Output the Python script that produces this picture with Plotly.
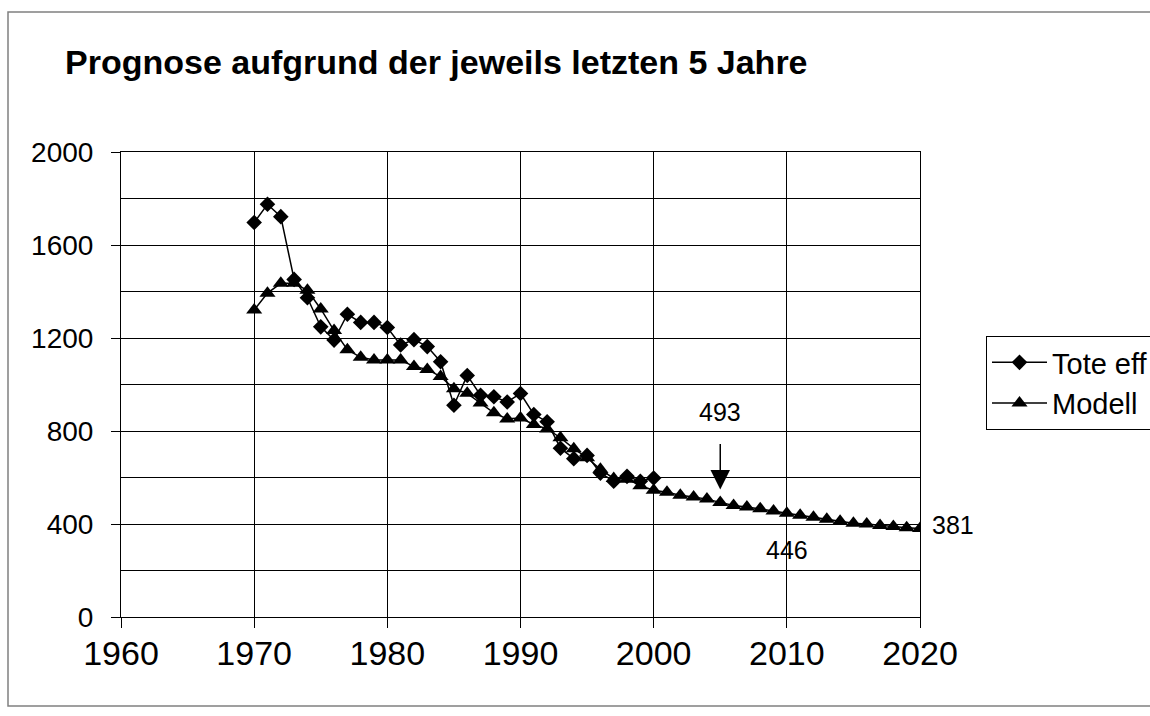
import plotly.graph_objects as go

# ---- data ----
years_eff = list(range(1970, 2001))
tote_eff = [1697, 1775, 1722, 1452, 1373, 1248, 1191, 1302, 1267, 1267,
            1245, 1170, 1193, 1163, 1098, 911, 1039, 954, 947, 925,
            961, 871, 840, 726, 681, 695, 619, 584, 605, 584, 598]

years_mod = list(range(1970, 2021))
modell = [1320, 1393, 1435, 1435, 1405, 1325, 1232, 1150, 1117, 1105,
          1105, 1105, 1077, 1065, 1034, 982, 962, 920, 878, 852,
          856, 828, 809, 771, 724, 685, 635, 596, 593, 565,
          545, 537, 524, 516, 507, 493, 480, 473, 466, 456,
          446, 438, 429, 420, 412, 403, 400, 394, 389, 384, 381]

x_ticks = [1960, 1970, 1980, 1990, 2000, 2010, 2020]
y_ticks = [0, 400, 800, 1200, 1600, 2000]
title_text = "Prognose aufgrund der jeweils letzten 5 Jahre"
marked_years = [2005, 2010, 2020]

FONT = "Liberation Sans, Arial, sans-serif"
W, H = 1150, 716
ML, MR, MT, MB = 121, 230, 152, 99
PW, PH = W - ML - MR, H - MT - MB

def px_to_paper_x(px):
    return (px - ML) / PW

def px_to_paper_y(py):
    return (H - MB - py) / PH

fig = go.Figure()
fig.add_trace(go.Scatter(
    x=years_eff, y=tote_eff, name="Tote eff", mode="lines+markers",
    line=dict(color="black", width=1.5),
    marker=dict(symbol="diamond", size=12, color="black"),
))
fig.add_trace(go.Scatter(
    x=years_mod, y=modell, name="Modell", mode="lines+markers",
    line=dict(color="black", width=1.5),
    marker=dict(symbol="triangle-up", size=14, color="black"),
))

val = dict(zip(years_mod, modell))

# arrow for 2005
fig.add_annotation(x=marked_years[0], y=val[marked_years[0]], xref="x", yref="y",
                   text="", showarrow=True, arrowhead=2, arrowsize=2.6,
                   arrowwidth=1.5, arrowcolor="black", ax=0, ay=-60, standoff=13)
fig.add_annotation(x=marked_years[0], y=val[marked_years[0]], xref="x", yref="y",
                   text=str(val[marked_years[0]]), showarrow=False, yshift=90,
                   font=dict(family=FONT, size=25, color="black"))
fig.add_annotation(x=marked_years[1], y=val[marked_years[1]], xref="x", yref="y",
                   text=str(val[marked_years[1]]), showarrow=False, yshift=-37,
                   font=dict(family=FONT, size=25, color="black"))
fig.add_annotation(x=marked_years[2], y=val[marked_years[2]], xref="x", yref="y",
                   text=str(val[marked_years[2]]), showarrow=False, xanchor="left",
                   xshift=10, yshift=3,
                   font=dict(family=FONT, size=25, color="black"))

# outer chart border
fig.add_shape(type="rect", xref="paper", yref="paper",
              x0=px_to_paper_x(8), x1=px_to_paper_x(1170),
              y0=px_to_paper_y(706), y1=px_to_paper_y(12),
              line=dict(color="#808080", width=1.5), fillcolor="rgba(0,0,0,0)",
              layer="below")

fig.update_layout(
    width=W, height=H,
    margin=dict(l=ML, r=MR, t=MT, b=MB, autoexpand=False),
    paper_bgcolor="white", plot_bgcolor="white",
    font=dict(family=FONT, color="black"),
    title=dict(text="<b>" + title_text + "</b>", x=65 / W, xref="container",
               xanchor="left", y=1 - 62 / H, yref="container", yanchor="middle",
               font=dict(family=FONT, size=34, color="black")),
    showlegend=True,
    legend=dict(x=px_to_paper_x(986), y=px_to_paper_y(336), xanchor="left", yanchor="top",
                bordercolor="black", borderwidth=1, bgcolor="white", itemwidth=55,
                font=dict(family=FONT, size=29, color="black")),
    xaxis=dict(range=[1960, 2020], tickvals=x_ticks, showgrid=True,
               gridcolor="black", gridwidth=1, showline=True, linecolor="black",
               linewidth=1, mirror=True, ticks="outside", ticklen=10,
               tickcolor="black", ticklabelstandoff=-4, zeroline=False,
               tickfont=dict(family=FONT, size=34, color="black")),
    yaxis=dict(range=[0, 2000], tickvals=y_ticks, showgrid=True,
               gridcolor="black", gridwidth=1, showline=True, linecolor="black",
               linewidth=1, mirror=True, ticks="outside", ticklen=9,
               tickcolor="black", ticklabelstandoff=12, zeroline=False,
               minor=dict(dtick=200, showgrid=True, gridcolor="black",
                          gridwidth=1, ticks=""),
               tickfont=dict(family=FONT, size=28, color="black")),
)

fig.write_html(
    "out.html",
    config={"displayModeBar": False},
    post_script="document.body.style.margin='0';document.body.style.overflow='hidden';",
)
